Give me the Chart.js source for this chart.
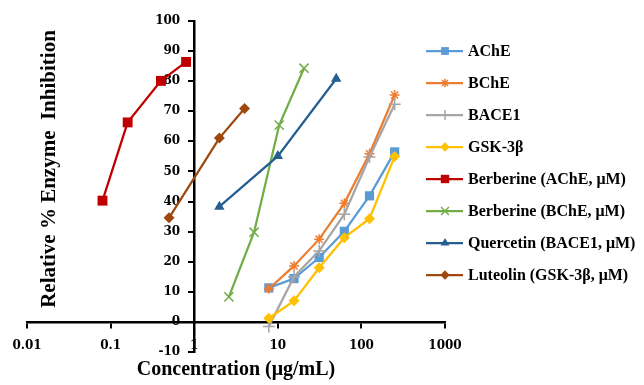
<!DOCTYPE html>
<html>
<head>
<meta charset="utf-8">
<script src="https://cdn.jsdelivr.net/npm/chart.js@4.4.1/dist/chart.umd.min.js"></script>
<style>
  html, body { margin: 0; padding: 0; background: #fff; }
  #wrap { width: 644px; height: 385px; }
</style>
</head>
<body>
<div id="wrap"><canvas id="chart" width="644" height="385"></canvas></div>
<script>
// concentrations (log x axis)
const enzymeConc = [7.8125, 15.625, 31.25, 62.5, 125, 250];
const berberineAChEConc = [0.08, 0.16, 0.4, 0.8];
const berberineBChEConc = [2.6, 5.2, 10.4, 20.6];
const quercetinConc = [2, 10, 50];
const luteolinConc = [0.5, 2, 4];

// % inhibition
const achE = [11.3, 14.4, 21.4, 30.1, 41.9, 56.5];
const bchE = [11.0, 18.6, 27.5, 39.4, 55.9, 75.4];
const bace1 = [-1.5, 15.0, 23.6, 35.8, 54.8, 72.3];
const gsk3b = [1.2, 7.0, 18.0, 28.0, 34.3, 55.0];
const berberineAChE = [40.3, 66.3, 80.1, 86.4];
const berberineBChE = [8.3, 29.8, 65.4, 84.3];
const quercetin = [38.3, 55.1, 80.8];
const luteolin = [34.6, 61.1, 70.9];

const xTicks = [0.01, 0.1, 1, 10, 100, 1000];
const yMin = -10, yMax = 100, yStep = 10;

const xTitle = 'Concentration (\u03bcg/mL)';
const yTitle = 'Relative % Enzyme  Inhibition';

function pts(xs, ys) {
    return xs.map((x, i) => ({ x: x, y: ys[i] }));
}

const series = [
    { label: 'AChE', xs: enzymeConc, ys: achE, color: '#5B9BD5', style: 'rect', r: 6.5 },
    { label: 'BChE', xs: enzymeConc, ys: bchE, color: '#ED7D31', style: 'star', r: 5 },
    { label: 'BACE1', xs: enzymeConc, ys: bace1, color: '#A5A5A5', style: 'cross', r: 6 },
    { label: 'GSK-3\u03b2', xs: enzymeConc, ys: gsk3b, color: '#FFC000', style: 'rectRot', r: 5.5 },
    { label: 'Berberine (AChE, \u03bcM)', xs: berberineAChEConc, ys: berberineAChE, color: '#C00000', style: 'rect', r: 7 },
    { label: 'Berberine (BChE, \u03bcM)', xs: berberineBChEConc, ys: berberineBChE, color: '#70AD47', style: 'crossRot', r: 6.5 },
    { label: 'Quercetin (BACE1, \u03bcM)', xs: quercetinConc, ys: quercetin, color: '#255E91', style: 'triangle', r: 6 },
    { label: 'Luteolin (GSK-3\u03b2, \u03bcM)', xs: luteolinConc, ys: luteolin, color: '#9E480E', style: 'rectRot', r: 5.5 }
];

const stroked = ['star', 'cross', 'crossRot'];

const datasets = series.map((s, i) => ({
    label: s.label,
    data: pts(s.xs, s.ys),
    borderColor: s.color,
    backgroundColor: s.color,
    borderWidth: 2.25,
    pointStyle: s.style,
    pointRadius: s.r,
    pointHoverRadius: s.r,
    pointBorderWidth: stroked.includes(s.style) ? 1.5 : 0,
    pointBorderColor: s.color,
    pointBackgroundColor: s.color,
    tension: 0,
    order: series.length - i
}));

// y axis sits at x = 1, push its tick labels left of the tick marks
const yLabelShift = {
    id: 'yLabelShift',
    beforeDraw(chart) {
        const items = chart.scales.y.getLabelItems(chart.chartArea);
        if (!items._shifted) {
            items.forEach(it => { it.options.translation[0] -= 14; });
            items._shifted = true;
        }
    }
};

// axis titles + legend with line and marker
const extras = {
    id: 'extras',
    afterDraw(chart) {
        const ctx = chart.ctx;
        const area = chart.chartArea;
        ctx.save();
        ctx.fillStyle = '#000';
        ctx.font = 'bold 20px "Liberation Serif"';
        ctx.textAlign = 'center';
        ctx.textBaseline = 'middle';
        ctx.fillText(xTitle, (area.left + area.right) / 2, 370);
        ctx.save();
        ctx.translate(50, 169);
        ctx.rotate(-Math.PI / 2);
        ctx.font = 'bold 21px "Liberation Serif"';
        ctx.fillText(yTitle, 0, 0);
        ctx.restore();

        ctx.font = 'bold 16px "Liberation Serif"';
        ctx.textAlign = 'left';
        series.forEach((s, i) => {
            const y = 51 + i * 32;
            ctx.strokeStyle = s.color;
            ctx.fillStyle = s.color;
            ctx.lineWidth = 2.25;
            ctx.beginPath();
            ctx.moveTo(426, y);
            ctx.lineTo(463, y);
            ctx.stroke();
            ctx.lineWidth = 1.5;
            Chart.helpers.drawPoint(ctx, {
                pointStyle: s.style,
                radius: s.r * 0.85,
                borderWidth: stroked.includes(s.style) ? 1.5 : 0,
                rotation: 0
            }, 445, y);
            ctx.fillStyle = '#000';
            ctx.fillText(s.label, 468, y + 1);
        });
        ctx.restore();
    }
};

const ctx = document.getElementById('chart').getContext('2d');
const chart = new Chart(ctx, {
    type: 'line',
    data: { datasets: datasets },
    plugins: [yLabelShift, extras],
    options: {
        responsive: false,
        devicePixelRatio: 1,
        animation: false,
        layout: { padding: { left: 27, right: 199, top: 21, bottom: 33 } },
        plugins: {
            legend: { display: false },
            tooltip: { enabled: false }
        },
        scales: {
            x: {
                type: 'logarithmic',
                min: 0.01,
                max: 1000,
                position: { y: 0 },
                afterBuildTicks: (scale) => {
                    scale.ticks = xTicks.map(v => ({ value: v }));
                },
                afterFit: (scale) => { scale.height = 0; },
                ticks: {
                    autoSkip: false,
                    maxRotation: 0,
                    padding: 12,
                    color: '#000',
                    font: { family: '"DejaVu Serif"', weight: 'bold', size: 12 },
                    callback: (v) => String(v)
                },
                grid: {
                    drawOnChartArea: false,
                    drawTicks: true,
                    tickLength: 5,
                    color: '#000',
                    lineWidth: 2
                },
                border: { color: '#000', width: 2.5 }
            },
            y: {
                type: 'linear',
                min: yMin,
                max: yMax,
                position: { x: 1 },
                afterFit: (scale) => { scale.width = 0; },
                ticks: {
                    stepSize: yStep,
                    color: '#000',
                    font: { family: '"DejaVu Serif"', weight: 'bold', size: 12 }
                },
                grid: {
                    drawOnChartArea: false,
                    drawTicks: true,
                    tickLength: 5,
                    color: '#000',
                    lineWidth: 2
                },
                border: { color: '#000', width: 2.5 }
            }
        }
    }
});
</script>
</body>
</html>
